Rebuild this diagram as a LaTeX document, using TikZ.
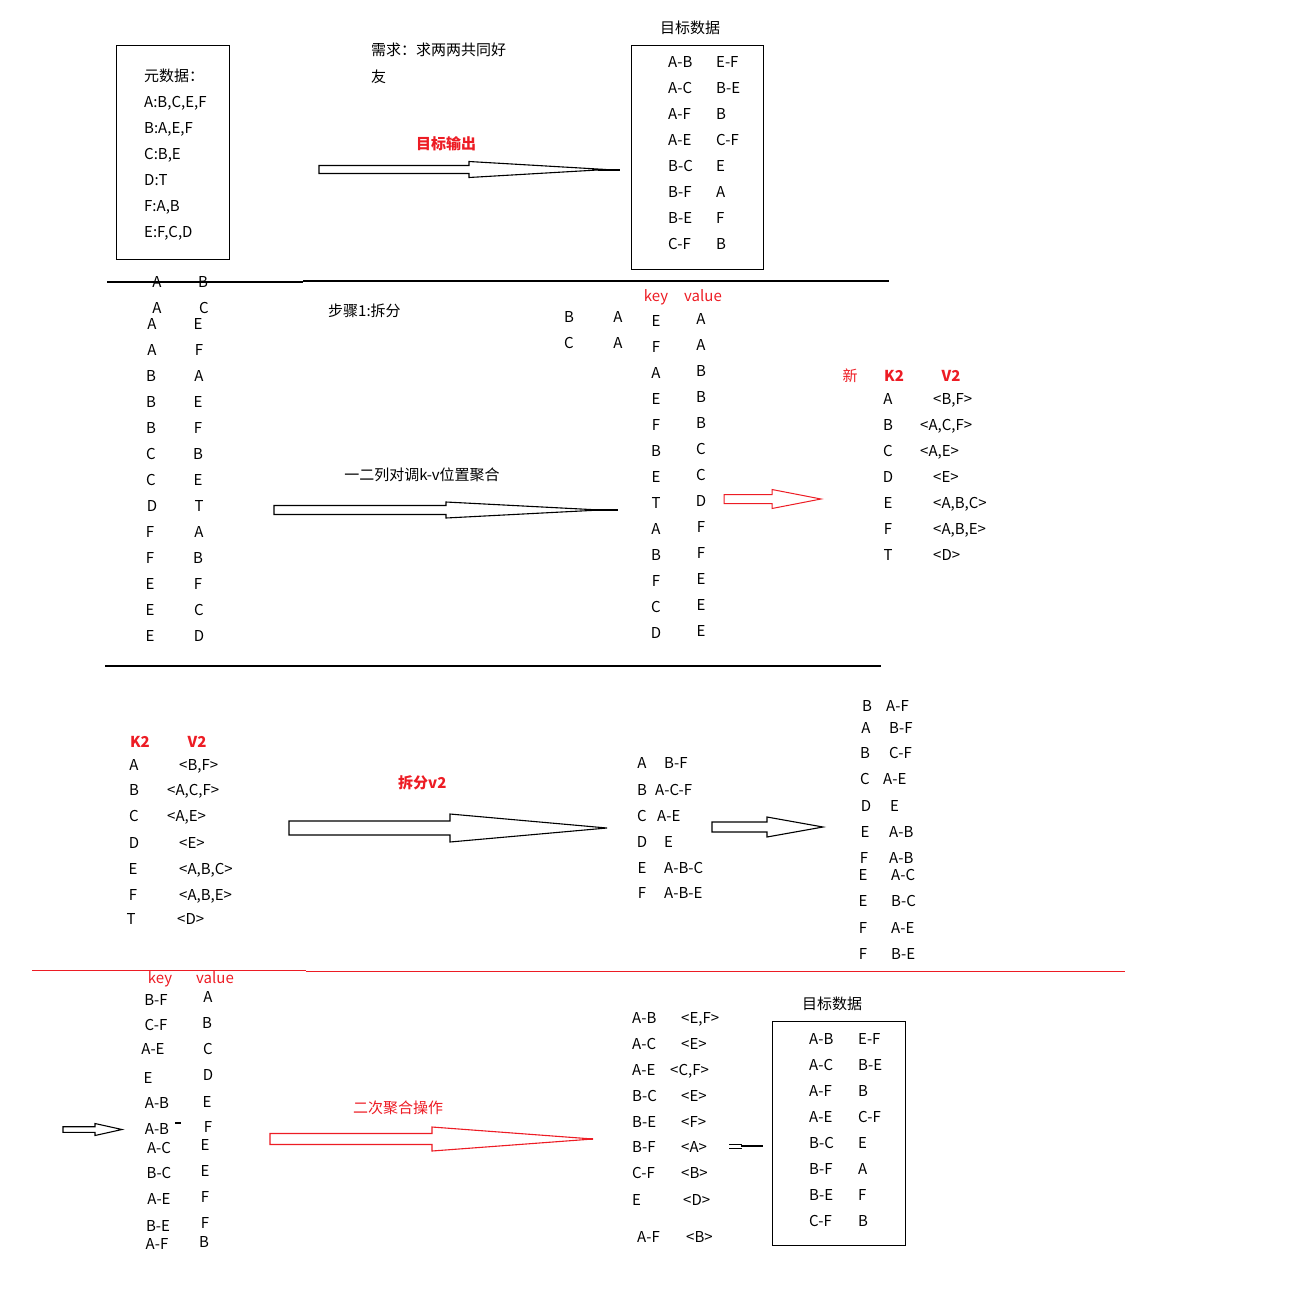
\documentclass[tikz,border=0pt]{standalone}
\usepackage{fontspec}
\setmainfont{Noto Sans CJK SC}
\definecolor{myred}{RGB}{237,28,36}
\newcommand\fs{\fontsize{15}{18}\selectfont}
% block arrow: #1 start x, #2 head x, #3 tip x, #4 mid y, #5 shaft half height, #6 head half height, #7 style
\newcommand\barr[7]{\draw[#7] (#1,#4-#5) -- (#2,#4-#5) -- (#2,#4-#6) -- (#3,#4) -- (#2,#4+#6) -- (#2,#4+#5) -- (#1,#4+#5) -- cycle;}
\begin{document}
\begin{tikzpicture}[x=1pt,y=-1pt,
  every node/.append style={font=\fs},
  t/.style={anchor=base west,inner sep=0pt,yshift=-5.5pt},
  tc/.style={anchor=base,inner sep=0pt,yshift=-5.5pt},
  rd/.style={text=myred},
  rb/.style={text=myred,font=\fs\bfseries},
  box/.style={draw,line width=1.2pt,minimum width=0pt,minimum height=0pt,inner sep=0pt,anchor=north west},
  ln/.style={line width=1.1pt},
  ba/.style={draw,line width=1.1pt,fill=white},
  rba/.style={draw=myred,line width=1.1pt,fill=white}]
\useasboundingbox (0,0) rectangle (1307,1291);

% ---------------- section 1 ----------------
\node[box,minimum width=113pt,minimum height=214pt] (box1) at (116,45) {};
\node[t] (m0) at (144,76) {元数据：};
\foreach \s [count=\i] in {{A:B,C,E,F},{B:A,E,F},{C:B,E},{D:T},{F:A,B},{E:F,C,D}}
  \node[t] (m\i) at (144,76+26*\i) {\s};
\node[t] (need1) at (371,50) {需求：求两两共同好};
\node[t] (need2) at (371,77) {友};
\node[t,rb] (out1) at (416,144) {目标输出};
\barr{319}{469}{606}{169.5}{4}{8}{ba}
\draw[line width=2pt] (598,169.5) -- (620,169.5);

\node[tc] (tt1) at (690,28) {目标数据};
\node[box,minimum width=132pt,minimum height=224pt] (box2) at (631,45) {};
\foreach \a/\b [count=\i] in {A-B/E-F,A-C/B-E,A-F/B,A-E/C-F,B-C/E,B-F/A,B-E/F,C-F/B}{
  \node[t] (ta\i) at (668,36+26*\i) {\a};
  \node[t] (tb\i) at (716,36+26*\i) {\b};
}
\draw[ln] (107,282) -- (303,282);
\draw[ln] (303,281) -- (889,281);

% ---------------- section 2 ----------------
\foreach \y/\k/\kx/\v/\vx [count=\i] in {282/A/157/B/203,308/A/157/C/204,324/A/152/E/198,350/A/152/F/199,
  376/B/151/A/199,402/B/151/E/198,428/B/151/F/198,454/C/151/B/198,480/C/151/E/198,506/D/152/T/199,
  532/F/150/A/199,558/F/150/B/198,584/E/150/F/198,610/E/150/C/199,636/E/150/D/199}{
  \node[tc] (sk\i) at (\kx,\y) {\k};
  \node[tc] (sv\i) at (\vx,\y) {\v};
}
\node[t] (step1) at (328,311) {步骤1:拆分};
\node[tc] (p1) at (569,317) {B};
\node[tc] (p2) at (618,317) {A};
\node[tc] (p3) at (569,343) {C};
\node[tc] (p4) at (618,343) {A};
\node[tc,rd] (key1) at (656,296) {key};
\node[tc,rd] (val1) at (703,296) {value};
\foreach \k [count=\i] in {E,F,A,E,F,B,E,T,A,B,F,C,D}
  \node[tc] (kk\i) at (656,295+26*\i) {\k};
\foreach \v [count=\i] in {A,A,B,B,B,C,C,D,F,F,E,E,E}
  \node[tc] (vv\i) at (701,293+26*\i) {\v};
\node[tc] (swap) at (422,475) {一二列对调k-v位置聚合};
\barr{274}{446}{600}{510}{4.5}{8}{ba}
\draw[line width=2pt] (596,510) -- (618,510);
\barr{724}{772}{821}{499}{4.5}{9.5}{draw=myred,line width=1pt,fill=white}

\node[tc,rd] (xin) at (850,376) {新};
\node[tc,rb] (k2a) at (894,376) {K2};
\node[tc,rb] (v2a) at (951,376) {V2};
\foreach \y/\k/\v/\vx [count=\i] in {399/A/{<B,F>}/933,425/B/{<A,C,F>}/920,451/C/{<A,E>}/920,477/D/{<E>}/933,
  503/E/{<A,B,C>}/933,529/F/{<A,B,E>}/933,555/T/{<D>}/933}{
  \node[tc] (ra\i) at (888,\y) {\k};
  \node[t] (rv\i) at (\vx,\y) {\v};
}
\draw[ln] (105,666) -- (881,666);

% ---------------- section 3 ----------------
\node[tc,rb] (k2b) at (140,742) {K2};
\node[tc,rb] (v2b) at (197,742) {V2};
\foreach \y/\k/\kx/\v/\vx [count=\i] in {765/A/134/{<B,F>}/179,790/B/134/{<A,C,F>}/167,816/C/134/{<A,E>}/167,
  843/D/134/{<E>}/179,869/E/133/{<A,B,C>}/179,895/F/133/{<A,B,E>}/179,919/T/131/{<D>}/177}{
  \node[tc] (la\i) at (\kx,\y) {\k};
  \node[t] (lv\i) at (\vx,\y) {\v};
}
\node[t,rb] (split2) at (398,783) {拆分v2};
\barr{289}{450}{607}{828}{7}{14}{ba}
\foreach \y/\k/\v/\vx [count=\i] in {763/A/B-F/664,790/B/A-C-F/655,816/C/A-E/657,842/D/E/664,868/E/A-B-C/664,893/F/A-B-E/664}{
  \node[tc] (ma\i) at (642,\y) {\k};
  \node[t] (mv\i) at (\vx,\y) {\v};
}
\barr{712}{767}{823}{827}{5}{10}{ba}
\foreach \y/\k/\kx/\v/\vx [count=\i] in {706/B/867/A-F/886,728/A/866/B-F/889,753/B/865/C-F/889,779/C/865/A-E/883,
  806/D/866/E/890,832/E/865/A-B/889,858/F/864/A-B/889,875/E/863/A-C/891,901/E/863/B-C/891,
  928/F/863/A-E/891,954/F/863/B-E/891}{
  \node[tc] (na\i) at (\kx,\y) {\k};
  \node[t] (nv\i) at (\vx,\y) {\v};
}
\draw[line width=1pt,myred] (32,970) -- (306,970);
\draw[line width=1pt,myred] (306,971) -- (1125,971);

% ---------------- section 4 ----------------
\node[tc,rd] (key2) at (160,978) {key};
\node[tc,rd] (val2) at (215,978) {value};
\foreach \y/\k/\kx/\vy/\v/\vx [count=\i] in {1000/B-F/156/997/A/208,1025/C-F/156/1023/B/207,1049/A-E/153/1049/C/208,
  1078/E/148/1075/D/208,1103/A-B/157/1102/E/207,1129/A-B/157/1127/F/208,1148/A-C/159/1145/E/205,
  1173/B-C/159/1171/E/205,1199/A-E/159/1197/F/205,1226/B-E/158/1223/F/205,1244/A-F/157/1242/B/204}{
  \node[tc] (qa\i) at (\kx,\y) {\k};
  \node[tc] (qv\i) at (\vx,\vy) {\v};
}
\draw[line width=1.6pt] (175,1123) -- (181,1123);
\barr{63}{95}{122}{1129.5}{2.8}{6}{ba}
\node[t,rd] (agg2) at (353,1108) {二次聚合操作};
\barr{270}{432}{593}{1139}{5.5}{12}{rba}
\draw[line width=2pt,myred] (582,1139) -- (593,1139);

\foreach \y/\k/\v/\vx [count=\i] in {1018/A-B/{<E,F>}/681,1044/A-C/{<E>}/681,1070/A-E/{<C,F>}/670,1096/B-C/{<E>}/681,
  1122/B-E/{<F>}/681,1147/B-F/{<A>}/681,1173/C-F/{<B>}/681,1200/E/{<D>}/683}{
  \node[t] (wa\i) at (632,\y) {\k};
  \node[t] (wv\i) at (\vx,\y) {\v};
}
\node[t] (wa9) at (637,1237) {A-F};
\node[t] (wv9) at (686,1237) {<B>};
\draw[line width=0.8pt] (729,1144) -- (742,1144);
\draw[line width=0.8pt] (729,1148) -- (742,1148);
\draw[line width=2pt] (741,1146) -- (763,1146);

\node[tc] (tt2) at (832,1004) {目标数据};
\node[box,minimum width=133pt,minimum height=224pt] (box3) at (772,1021) {};
\foreach \a/\b [count=\i] in {A-B/E-F,A-C/B-E,A-F/B,A-E/C-F,B-C/E,B-F/A,B-E/F,C-F/B}{
  \node[t] (za\i) at (809,1013+26*\i) {\a};
  \node[t] (zb\i) at (858,1013+26*\i) {\b};
}
\end{tikzpicture}
\end{document}
